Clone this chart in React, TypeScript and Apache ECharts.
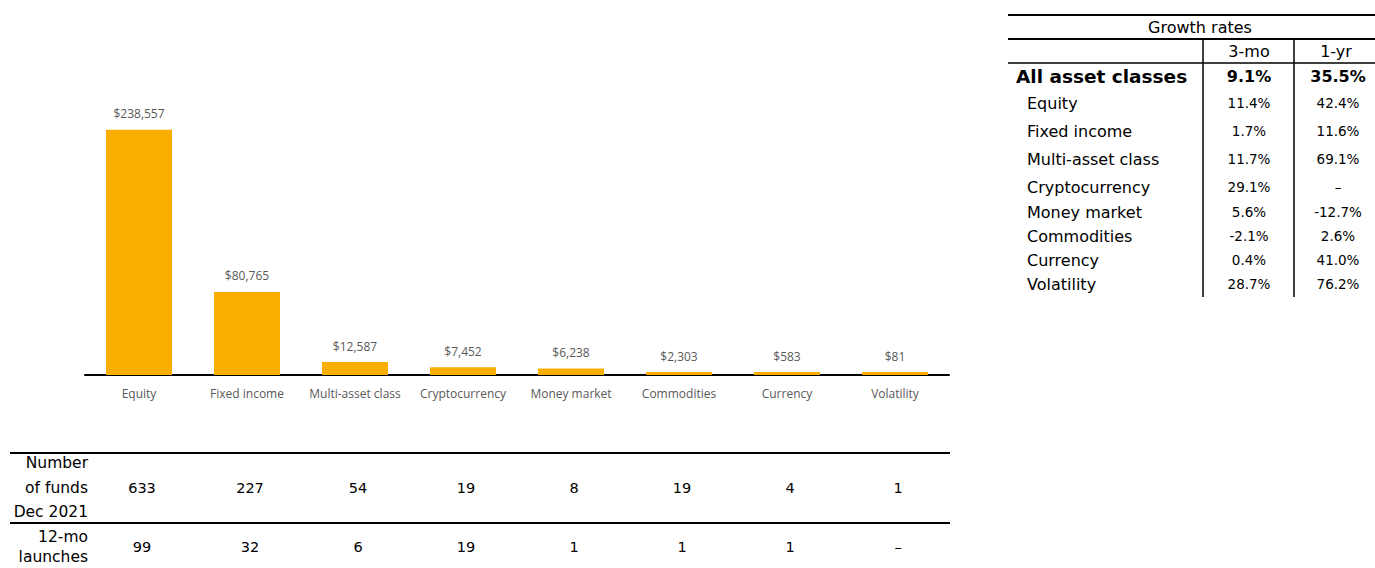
import React, { useEffect, useRef } from "react";
import * as echarts from "echarts";

const categories = ["Equity", "Fixed income", "Multi-asset class", "Cryptocurrency", "Money market", "Commodities", "Currency", "Volatility"];
const aumValues = [238557, 80765, 12587, 7452, 6238, 2303, 583, 81];
const fundCounts = ["633", "227", "54", "19", "8", "19", "4", "1"];
const launches = ["99", "32", "6", "19", "1", "1", "1", "–"];
const growthRows = ["Equity", "Fixed income", "Multi-asset class", "Cryptocurrency", "Money market", "Commodities", "Currency", "Volatility"];
const growth3mo = ["11.4%", "1.7%", "11.7%", "29.1%", "5.6%", "-2.1%", "0.4%", "28.7%"];
const growth1yr = ["42.4%", "11.6%", "69.1%", "–", "-12.7%", "2.6%", "41.0%", "76.2%"];
const totalLabel = "All asset classes";
const totalGrowth = ["9.1%", "35.5%"];
const growthHeader = "Growth rates";
const growthCols = ["3-mo", "1-yr"];
const fundRowLabel = ["Number", "of funds", "Dec 2021"];
const launchRowLabel = ["12-mo", "launches"];

const TF = "DejaVu Sans";

function txt(x: number, y: number, text: string, align: string, size = 14, weight = "normal") {
  return {
    type: "text",
    x,
    y,
    silent: true,
    style: {
      text,
      fill: "#000",
      fontFamily: TF,
      fontSize: size,
      fontWeight: weight,
      textAlign: align,
      textVerticalAlign: "middle",
      align,
      verticalAlign: "middle",
    },
  };
}

function ln(x1: number, y1: number, x2: number, y2: number, w = 1.5) {
  return {
    type: "line",
    silent: true,
    shape: { x1, y1, x2, y2 },
    style: { stroke: "#000", lineWidth: w },
  };
}

export default function App() {
  const ref = useRef<HTMLDivElement>(null);
  useEffect(() => {
    document.body.style.margin = "0";
    if (!ref.current) return;
    const chart = echarts.init(ref.current, null, { renderer: "svg" });
    chart.setOption({
      animation: false,
      grid: { left: 85, top: 118, width: 864, bottom: 193 },
      xAxis: {
        type: "category",
        data: categories,
        axisLine: { lineStyle: { color: "#000", width: 2 } },
        axisTick: { show: false },
        axisLabel: { color: "#595959", fontSize: 12, fontFamily: "Open Sans", margin: 12, interval: 0 },
      },
      yAxis: { type: "value", min: 0, max: 250000, show: false, splitLine: { show: false } },
      series: [
        {
          type: "bar",
          data: aumValues,
          barWidth: 66,
          barMinHeight: 3,
          itemStyle: { color: "#F9AE00" },
          label: {
            show: true,
            position: "top",
            distance: 10,
            color: "#595959",
            fontSize: 12,
            fontFamily: "Open Sans",
            formatter: (p: any) => "$" + Number(p.value).toLocaleString("en-US"),
          },
        },
      ],
    });

    const els: any[] = [];
    // right table
    els.push(ln(1008, 15, 1375, 15, 2));
    els.push(ln(1008, 39, 1375, 39, 2));
    els.push(ln(1008, 63, 1375, 63, 1.5));
    els.push(ln(1203, 39, 1203, 297, 1.5));
    els.push(ln(1294, 39, 1294, 297, 1.5));
    els.push(txt(1200, 27, growthHeader, "center", 16));
    els.push(txt(1249, 51, growthCols[0], "center", 16));
    els.push(txt(1336, 51, growthCols[1], "center", 16));
    els.push(txt(1016, 76, totalLabel, "left", 18.5, "bold"));
    els.push(txt(1249, 76, totalGrowth[0], "center", 16, "bold"));
    els.push(txt(1338, 76, totalGrowth[1], "center", 16, "bold"));
    const rowYs = [103, 131, 159, 187, 212, 236, 260, 284];
    growthRows.forEach((r, i) => {
      els.push(txt(1027, rowYs[i], r, "left", 16));
      els.push(txt(1249, rowYs[i], growth3mo[i], "center", 13.5));
      els.push(txt(1338, rowYs[i], growth1yr[i], "center", 13.5));
    });
    // bottom table
    els.push(ln(10, 453, 950, 453, 2));
    els.push(ln(10, 523, 950, 523, 2));
    const fy = [463, 488, 512];
    fundRowLabel.forEach((t, i) => els.push(txt(88, fy[i], t, "right", 15.5)));
    const ly = [537, 557];
    launchRowLabel.forEach((t, i) => els.push(txt(88, ly[i], t, "right", 15.5)));
    categories.forEach((c, i) => {
      const px = chart.convertToPixel({ xAxisIndex: 0 }, c) as number;
      els.push(txt(px + 3, 488, fundCounts[i], "center", 14.5));
      els.push(txt(px + 3, 547, launches[i], "center", 14.5));
    });
    chart.setOption({ graphic: { elements: els } });

    return () => chart.dispose();
  }, []);
  return <div ref={ref} style={{ width: 1375, height: 568 }} />;
}
